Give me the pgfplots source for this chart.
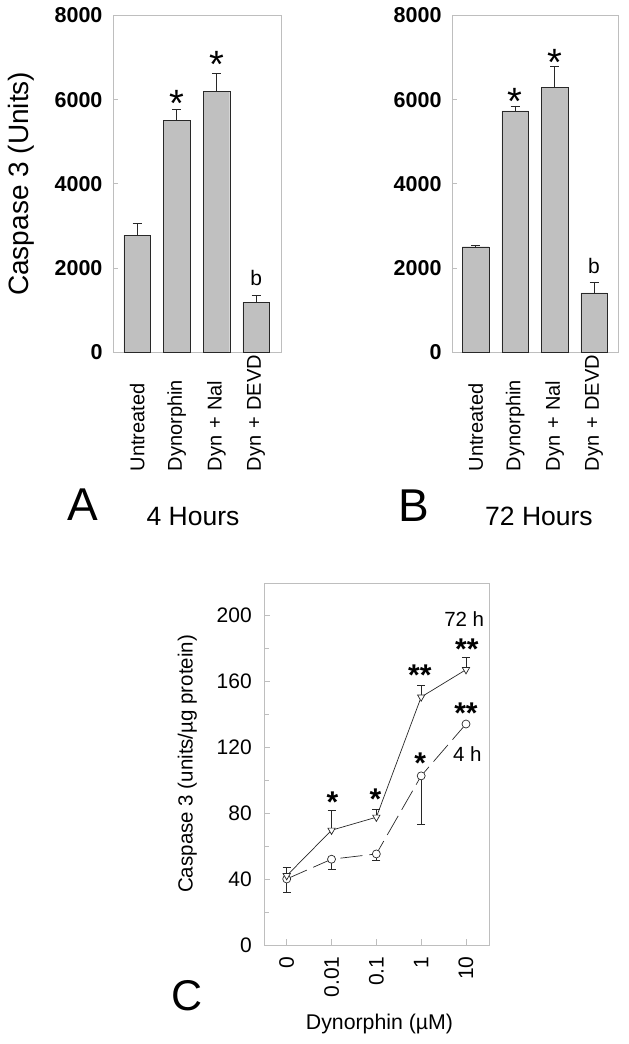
\documentclass[border=0pt]{standalone}
\usepackage{fontspec}
\setmainfont{Liberation Sans}
\usepackage{pgfplots}
\pgfplotsset{compat=1.18}
\newcommand{\fs}[1]{\fontsize{#1}{#1}\selectfont}
\definecolor{barfill}{RGB}{192,192,192}
\definecolor{framegray}{RGB}{190,190,190}
\definecolor{ink}{RGB}{40,40,40}

\begin{document}
\begin{tikzpicture}
\useasboundingbox (0,0) rectangle (629pt,-1044pt);
\pgfplotsset{
 /pgf/number format/assume math mode=true,
 barpanel/.style={
  scale only axis, height=336.5pt,
  ymin=0, ymax=8000, ytick={0,2000,4000,6000,8000},
  axis line style={framegray}, tick pos=left, tick align=inside,
  major tick length=5pt, every tick/.style={framegray, line width=0.6pt},
  xtick style={draw=none},
  yticklabel={\pgfmathprintnumber[1000 sep={}, assume math mode=true]{\tick}},
  yticklabel style={font=\bfseries\fs{21.5pt}, xshift=-7pt},
  xtick={0,1,2,3}, xticklabels={Untreated,Dynorphin,Dyn + Nal,Dyn + DEVD},
  xticklabel style={font=\fs{20pt}, rotate=90, anchor=east, inner sep=0pt, text width=119pt, align=left},
  clip=false,
 },
 barplot/.style={ybar, bar width=26.5pt, fill=barfill, draw=ink,
  error bars/.cd, y dir=plus, y explicit,
  error bar style={ink, line width=0.8pt},
  error mark options={rotate=90, mark size=4.5pt, ink, line width=0.8pt}},
}

% Panel A
\begin{axis}[barpanel, at={(113pt,-352pt)}, anchor=south west, width=167.7pt,
  xmin=-0.61, xmax=3.62,
  ylabel={Caspase 3 (Units)},
  ylabel style={font=\fs{28pt}, at={(axis description cs:-0.548,0.5)}, anchor=center}]
\addplot[barplot] coordinates {(0,2780) +- (0,270) (1,5514) +- (0,253) (2,6201) +- (0,425) (3,1186) +- (0,164)};
\node[font=\fs{38pt}, anchor=base] at (axis cs:1,5600) {*};
\node[font=\fs{38pt}, anchor=base] at (axis cs:2,6520) {*};
\node[font=\fs{21pt}, anchor=base] at (axis cs:3,1571) {b};
\end{axis}

% Panel B
\begin{axis}[barpanel, at={(452pt,-352pt)}, anchor=south west, width=165.7pt,
  xmin=-0.6, xmax=3.6]
\addplot[barplot] coordinates {(0,2503) +- (0,32) (1,5734) +- (0,115) (2,6299) +- (0,499) (3,1407) +- (0,254)};
\node[font=\fs{38pt}, anchor=base] at (axis cs:1,5640) {*};
\node[font=\fs{38pt}, anchor=base] at (axis cs:2,6580) {*};
\node[font=\fs{21pt}, anchor=base] at (axis cs:3,1857) {b};
\end{axis}

\node[font=\fs{46pt}, anchor=base] at (82.5pt,-520pt) {A};
\node[font=\fs{26.5pt}, anchor=base] at (193pt,-525pt) {4 Hours};
\node[font=\fs{46pt}, anchor=base] at (413.5pt,-521pt) {B};
\node[font=\fs{26.5pt}, anchor=base] at (539pt,-525pt) {72 Hours};

% Panel C
\begin{axis}[at={(264.3pt,-945pt)}, anchor=south west, scale only axis,
  width=225pt, height=362.3pt, clip=false,
  xmin=-0.5, xmax=4.52, ymin=0, ymax=220,
  xtick={0,1,2,3,4}, xticklabels={0,0.01,0.1,1,10},
  ytick={0,40,...,200}, minor ytick={20,60,...,180},
  yticklabel={\pgfmathprintnumber[assume math mode=true]{\tick}},
  tick pos=left, tick align=inside,
  major tick length=6pt, minor tick length=5pt,
  every tick/.style={framegray, line width=0.6pt},
  axis line style={framegray},
  xticklabel style={font=\fs{21pt}, yshift=-8pt, rotate=90, anchor=east},
  yticklabel style={font=\fs{21pt}, xshift=-9pt},
  ylabel={Caspase 3 (units/µg protein)},
  ylabel style={font=\fs{20.5pt}, at={(axis description cs:-0.342,0.5)}, anchor=center}]
% error bars 72 h (up)
\addplot[only marks, mark=none, ink, error bars/.cd, y dir=plus, y explicit,
  error bar style={ink, line width=0.7pt},
  error mark options={rotate=90, mark size=4pt, ink, line width=0.7pt}]
  coordinates {(0,42.1) +- (0,5) (1,69.7) +- (0,11.8) (2,77.6) +- (0,4.9) (3,150.6) +- (0,7) (4,167.2) +- (0,7.4)};
% error bars 4 h (down)
\addplot[only marks, mark=none, ink, error bars/.cd, y dir=minus, y explicit,
  error bar style={ink, line width=0.7pt},
  error mark options={rotate=90, mark size=4pt, ink, line width=0.7pt}]
  coordinates {(0,40.1) +- (0,8) (1,52.1) +- (0,6) (2,55.3) +- (0,3.6) (3,102.7) +- (0,29.3)};
% 4 h
\addplot[ink, line width=0.7pt, dash pattern=on 22pt off 7pt, mark=*, mark size=4pt,
  mark options={solid, fill=white, draw=ink}]
  coordinates {(0,40.1) (1,52.1) (2,55.3) (3,102.7) (4,134.2)};
% 72 h
\addplot[ink, line width=0.7pt, mark=triangle*, mark size=4.2pt,
  mark options={solid, fill=white, draw=ink, rotate=180}]
  coordinates {(0,42.1) (1,69.7) (2,77.6) (3,150.6) (4,167.2)};
\node[font=\bfseries\fs{30pt}, anchor=base] at (axis cs:1.02,80.3) {*};
\node[font=\bfseries\fs{30pt}, anchor=base] at (axis cs:1.98,82.1) {*};
\node[font=\bfseries\fs{30pt}, anchor=base] at (axis cs:2.97,157.4) {**};
\node[font=\bfseries\fs{30pt}, anchor=base] at (axis cs:4.02,173.4) {**};
\node[font=\bfseries\fs{30pt}, anchor=base] at (axis cs:2.98,104.4) {*};
\node[font=\bfseries\fs{30pt}, anchor=base] at (axis cs:4.0,134.4) {**};
\node[font=\fs{20.5pt}, anchor=base] at (axis cs:3.96,193.3) {72 h};
\node[font=\fs{20.5pt}, anchor=base] at (axis cs:4.03,111.2) {4 h};
\end{axis}
\node[font=\fs{21.3pt}, anchor=base] at (379.5pt,-1029pt) {Dynorphin (µM)};
\node[font=\fs{43pt}, anchor=base] at (187pt,-1010pt) {C};
\end{tikzpicture}
\end{document}
